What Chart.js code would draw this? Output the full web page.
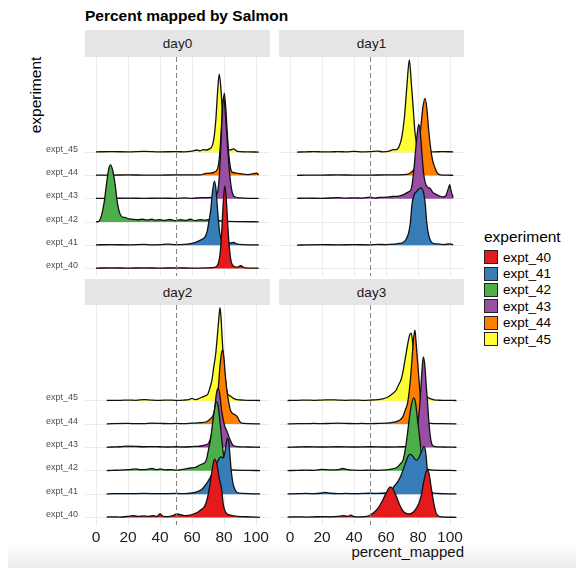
<!DOCTYPE html>
<html>
<head>
<meta charset="utf-8">
<title>Percent mapped by Salmon</title>
<script src="https://cdn.jsdelivr.net/npm/chart.js@4.4.1/dist/chart.umd.min.js"></script>
<style>
  body { margin: 0; background: #fff; font-family: 'Liberation Sans', Arial, Helvetica, sans-serif; }
  #page { position: relative; width: 576px; height: 568px; overflow: hidden; background: #fff; }
  #title { position: absolute; left: 85px; top: 7px; font-size: 15.5px; font-weight: bold; color: #000; white-space: nowrap; }
  #ytitle { position: absolute; left: 36px; top: 95px; transform: translate(-50%, -50%) rotate(-90deg); font-size: 15.5px; color: #000; white-space: nowrap; }
  #xtitle { position: absolute; right: 112px; top: 543px; font-size: 15px; color: #111; white-space: nowrap; }
  .strip { position: absolute; background: #e5e5e5; color: #1a1a1a; font-size: 13.5px; display: flex; align-items: center; justify-content: center; }
  canvas { position: absolute; }
  #legend { position: absolute; left: 484px; top: 228px; }
  #legend .head { font-size: 15.5px; color: #000; margin-bottom: 3px; }
  #legend .row { display: flex; align-items: center; height: 16.4px; }
  #legend .key { width: 14px; height: 14px; box-sizing: border-box; border: 1px solid #222; margin-right: 5px; }
  #legend .lab { font-size: 13.5px; color: #000; }
  #shade { position: absolute; left: 8px; right: 0; top: 544px; height: 24px; background: linear-gradient(to bottom, rgba(238,238,238,0), #ebebeb); }
</style>
</head>
<body>
<div id="page">
  <div id="shade"></div>
  <div id="title">Percent mapped by Salmon</div>
  <div id="ytitle">experiment</div>
  <div id="xtitle">percent_mapped</div>
  <div id="legend"></div>
</div>
<script>
// groups and fill colours (ColorBrewer Set1)
const EXPERIMENTS = ['expt_40', 'expt_41', 'expt_42', 'expt_43', 'expt_44', 'expt_45'];
const COLORS = ['#E41A1C', '#377EB8', '#4DAF4A', '#984EA3', '#FF7F00', '#FFFF33'];
const X_TICKS = [0, 20, 40, 60, 80, 100];
const CUTOFF = 50;

// density ridges: [percent_mapped, scaled density]
const day0_40 = [[0,0.02],[10,0.03],[20,0.02],[30,0.03],[40,0.02],[50,0.03],[60,0.02],[70,0.03],[74,0.05],[76,0.15],[77.5,0.6],[78.5,1.5],[79.5,2.8],[80.5,3.56],[81.5,2.9],[82.5,1.7],[83.5,0.8],[84.5,0.3],[86,0.1],[88,0.06],[90.5,0.12],[93,0.03],[101.7,0.02]];
const day0_41 = [[0,0.02],[10,0.03],[20,0.02],[30,0.04],[35,0.02],[40,0.03],[45,0.05],[50,0.03],[55,0.04],[60,0.08],[63,0.15],[66,0.25],[68,0.35],[69.5,0.6],[70.5,1.0],[71.7,1.5],[72.8,2.3],[74,2.76],[75,2.4],[76,1.5],[77,0.7],[78,0.3],[80,0.12],[84,0.1],[86,0.12],[88,0.06],[92,0.03],[101.7,0.02]];
const day0_42 = [[0,0.01],[2,0.05],[3.5,0.3],[5,0.8],[6.5,1.6],[8,2.3],[9.2,2.46],[10.5,2.2],[12,1.6],[13,1.0],[14,0.6],[15,0.35],[16.5,0.22],[18,0.2],[20,0.15],[23,0.12],[26,0.1],[29,0.12],[32,0.08],[35,0.12],[37,0.08],[40,0.1],[43,0.07],[46,0.11],[50,0.06],[53,0.1],[56,0.07],[59,0.12],[62,0.06],[65,0.1],[68,0.08],[71,0.12],[73,0.15],[75,0.1],[78,0.05],[82,0.03],[90,0.02],[101.7,0.01]];
const day0_43 = [[0,0.02],[10,0.02],[20,0.03],[30,0.02],[40,0.03],[50,0.02],[55,0.04],[60,0.02],[66,0.05],[70,0.05],[74,0.1],[76,0.3],[77,0.9],[78,2.2],[79,3.8],[79.7,4.42],[80.5,4.0],[81.5,3.0],[82.5,2.0],[83.5,1.1],[84.5,0.5],[85.5,0.2],[87,0.08],[90,0.04],[95,0.02],[101.7,0.02]];
const day0_44 = [[0,0.02],[10,0.02],[20,0.03],[30,0.02],[40,0.02],[50,0.03],[65,0.03],[68,0.08],[71,0.1],[74,0.15],[76,0.3],[77,0.7],[78,1.6],[79,2.8],[80.2,3.54],[81,3.0],[82,1.9],[83,0.9],[84,0.35],[85,0.15],[87,0.12],[90,0.08],[95,0.04],[100.5,0.1],[101.7,0.03]];
const day0_45 = [[0,0.02],[10,0.03],[20,0.02],[30,0.04],[40,0.02],[50,0.03],[55,0.02],[60,0.05],[63,0.1],[65,0.06],[67,0.12],[69,0.1],[71,0.15],[72,0.2],[73,0.35],[74,0.75],[75,1.5],[76,2.6],[77,3.36],[78,2.8],[79,1.7],[80,0.75],[81,0.3],[82,0.15],[84,0.1],[86,0.15],[88,0.05],[90,0.03],[95,0.02],[101.7,0.01]];

const day1_41 = [[4.4,0.01],[10,0.02],[20,0.03],[30,0.02],[40,0.03],[50,0.02],[55,0.04],[60,0.03],[65,0.05],[68,0.08],[70.5,0.12],[72.5,0.25],[74,0.5],[75.2,0.95],[76.3,1.8],[77.7,2.2],[79,2.3],[80.2,2.4],[81.9,2.47],[83.5,2.25],[84.5,1.8],[85.3,1.1],[86.2,0.6],[87.5,0.25],[89,0.1],[92,0.06],[96,0.03],[100,0.06],[102,0.02]];
const day1_43 = [[4.4,0.02],[10,0.03],[20,0.02],[30,0.05],[35,0.03],[40,0.04],[45,0.03],[50,0.07],[53,0.03],[56,0.06],[60,0.07],[64,0.1],[68,0.12],[71,0.18],[74,0.3],[75.5,0.38],[76.5,0.7],[77.5,1.3],[78.5,2.1],[79.5,2.8],[80.5,3.2],[81.5,2.8],[82.5,1.9],[83.5,1.1],[84.5,0.7],[86,0.5],[87.5,0.45],[89,0.3],[91,0.2],[93.5,0.12],[95.5,0.08],[97.5,0.15],[99,0.45],[99.8,0.61],[100.8,0.3],[102,0.05]];
const day1_44 = [[4.4,0.01],[10,0.02],[20,0.02],[30,0.03],[40,0.02],[50,0.02],[60,0.03],[68,0.03],[73,0.05],[76,0.15],[78,0.35],[80,1.0],[81.5,1.9],[83,2.9],[84.4,3.32],[85.5,2.9],[86.5,2.1],[87.5,1.4],[89,0.7],[90.5,0.35],[92,0.12],[94,0.03],[98,0.02],[102,0.01]];
const day1_45 = [[4.4,0.01],[10,0.02],[15,0.03],[20,0.02],[25,0.02],[30,0.03],[35,0.02],[40,0.04],[45,0.02],[50,0.03],[55,0.05],[58,0.02],[62,0.05],[64.5,0.12],[66.5,0.12],[68.5,0.3],[70,0.7],[71.5,1.5],[73,2.8],[74.6,3.97],[75.8,3.0],[77,1.9],[78.2,0.8],[79.5,0.25],[81,0.08],[84,0.03],[90,0.02],[95,0.03],[102,0.02]];

const day2_40 = [[6.7,0.02],[10,0.03],[15,0.02],[20,0.05],[23,0.08],[26,0.05],[30,0.07],[33,0.05],[36,0.08],[38,0.05],[40,0.15],[42,0.05],[45,0.04],[48,0.08],[50.5,0.15],[53,0.12],[56,0.08],[59,0.1],[62,0.18],[64,0.25],[66,0.35],[68,0.5],[69.5,0.8],[71,1.3],[72.5,2.0],[74,2.5],[75.5,2.3],[77,1.7],[78.5,1.2],[79.5,0.6],[80.5,0.3],[82,0.15],[84,0.1],[87,0.06],[91,0.04],[96,0.03],[102.5,0.01]];
const day2_41 = [[6.7,0.01],[10,0.02],[20,0.02],[30,0.03],[40,0.02],[50,0.03],[55,0.02],[60,0.05],[63,0.1],[66,0.2],[68,0.35],[70,0.55],[72,0.8],[74,1.1],[76,1.4],[78,1.6],[79.6,1.55],[80.8,1.9],[82.1,2.39],[83,2.2],[83.8,1.6],[84.6,0.96],[85.5,0.5],[86.5,0.25],[88,0.08],[92,0.03],[102.5,0.01]];
const day2_42 = [[6.7,0.01],[10,0.02],[15,0.03],[20,0.05],[25,0.08],[28,0.05],[32,0.06],[35,0.1],[38,0.05],[40,0.08],[43,0.04],[47,0.05],[50,0.03],[53,0.05],[56,0.08],[59,0.12],[62,0.15],[65,0.25],[66.6,0.3],[68,0.35],[69.1,0.5],[70.3,0.9],[71.7,1.4],[73,2.1],[74.3,2.7],[75.4,2.96],[76.5,2.7],[77.5,2.1],[78.5,1.4],[79.5,0.8],[80.5,0.4],[82,0.15],[84,0.06],[88,0.03],[95,0.02],[102.5,0.01]];
const day2_43 = [[6.7,0.01],[10,0.02],[15,0.03],[20,0.06],[25,0.05],[30,0.03],[35,0.04],[40,0.03],[45,0.02],[50,0.03],[55,0.02],[60,0.04],[64,0.05],[68,0.1],[70.5,0.2],[72,0.5],[73,0.95],[74.2,1.7],[75.5,2.4],[76.5,2.53],[77.5,2.2],[78.5,1.6],[79.5,1.2],[80.5,0.9],[81.5,0.75],[82.7,0.53],[84,0.3],[85.5,0.1],[88,0.04],[95,0.02],[102.5,0.01]];
const day2_44 = [[6.7,0.01],[10,0.02],[20,0.03],[25,0.02],[30,0.02],[35,0.04],[40,0.03],[45,0.02],[50,0.03],[55,0.02],[60,0.04],[65,0.06],[69,0.1],[71,0.2],[73,0.35],[75,0.8],[76.5,1.6],[77.5,2.5],[78.5,3.05],[79.2,3.18],[80,2.8],[80.8,2.1],[81.7,1.5],[82.8,1.0],[84,0.6],[85.5,0.45],[87,0.4],[88.5,0.3],[89.5,0.15],[91,0.04],[95,0.02],[102.5,0.01]];
const day2_45 = [[6.7,0.01],[10,0.02],[15,0.02],[20,0.03],[25,0.02],[30,0.05],[35,0.03],[40,0.02],[45,0.03],[50,0.02],[55,0.03],[58,0.05],[60,0.1],[62,0.05],[64,0.08],[66,0.15],[68,0.2],[70,0.3],[71,0.5],[72.5,0.9],[73.5,1.4],[74.8,2.0],[76,2.9],[77,3.7],[77.5,3.99],[78.2,3.5],[79,2.5],[80,1.5],[81,0.8],[82,0.35],[84,0.2],[86,0.1],[88,0.05],[92,0.03],[102.5,0.01]];

const day3_40 = [[-1.5,0.02],[5,0.03],[10,0.02],[15,0.03],[20,0.04],[25,0.03],[30,0.05],[33,0.08],[36,0.05],[38,0.1],[40,0.04],[44,0.03],[48,0.05],[50.5,0.12],[53,0.25],[55.5,0.45],[58,0.75],[60.5,1.1],[62.7,1.31],[64.5,1.2],[66.5,0.9],[68.5,0.55],[70.5,0.3],[72.5,0.18],[74.6,0.15],[76.5,0.2],[78.5,0.35],[80.5,0.6],[82,0.95],[83.5,1.5],[85,1.95],[86,2.03],[87,1.85],[88,1.4],[89,0.95],[90.2,0.5],[91.3,0.2],[92.5,0.08],[95,0.03],[104,0.01]];
const day3_41 = [[-1.5,0.01],[5,0.02],[10,0.03],[15,0.02],[20,0.05],[22,0.08],[25,0.04],[30,0.02],[35,0.03],[40,0.02],[45,0.03],[50,0.04],[55,0.03],[60,0.05],[63,0.15],[65.2,0.35],[67.5,0.55],[69.4,0.81],[71,1.1],[72.8,1.45],[74,1.65],[75.2,1.7],[76.5,1.65],[78,1.5],[79.2,1.46],[80.5,1.55],[82,1.8],[83.7,2.05],[84.8,1.8],[85.6,1.2],[86.4,0.6],[87.3,0.25],[88.5,0.08],[92,0.03],[104,0.01]];
const day3_42 = [[-1.5,0.01],[5,0.02],[10,0.03],[15,0.02],[20,0.06],[25,0.04],[30,0.05],[33,0.1],[36,0.05],[40,0.03],[45,0.02],[50,0.03],[55,0.02],[60,0.04],[64,0.08],[67,0.15],[69,0.3],[70.7,0.47],[72,0.9],[73.2,1.47],[74.5,2.2],[75.8,2.8],[77.3,3.12],[78.5,2.9],[79.5,2.3],[80.9,1.5],[82,0.8],[83.2,0.3],[85,0.08],[90,0.03],[104,0.01]];
const day3_43 = [[-1.5,0.01],[5,0.02],[10,0.03],[20,0.02],[30,0.03],[40,0.02],[50,0.03],[60,0.02],[70,0.03],[75,0.05],[77.5,0.2],[79,0.6],[80.2,1.2],[81.2,1.9],[82.2,3.0],[83.3,3.88],[84.3,3.5],[85.2,2.6],[86,1.9],[86.9,1.0],[87.7,0.47],[88.6,0.15],[90,0.05],[95,0.02],[104,0.01]];
const day3_44 = [[-1.5,0.01],[5,0.02],[10,0.02],[15,0.03],[20,0.02],[25,0.03],[30,0.04],[35,0.03],[40,0.02],[45,0.03],[50,0.02],[55,0.03],[60,0.04],[65,0.08],[68,0.15],[70.4,0.3],[72,0.6],[73.5,0.9],[74.5,1.4],[75.5,2.1],[76.5,3.0],[77.3,3.7],[78.1,4.02],[78.8,3.5],[79.6,2.8],[80.4,2.1],[81.3,1.3],[82.2,0.6],[83.2,0.25],[84.5,0.08],[88,0.03],[95,0.02],[104,0.01]];
const day3_45 = [[-1.5,0.01],[5,0.02],[10,0.03],[15,0.02],[20,0.03],[25,0.04],[30,0.03],[35,0.02],[40,0.03],[45,0.02],[50,0.03],[55,0.05],[58,0.08],[61,0.15],[64,0.3],[66.3,0.45],[68,0.7],[69.4,0.9],[70.5,1.2],[71.5,1.6],[72.5,2.0],[73.5,2.4],[74.7,2.8],[75.6,2.89],[76.5,2.6],[77.5,1.8],[78.5,1.0],[80,0.5],[82,0.3],[84,0.22],[86,0.15],[88,0.08],[90,0.04],[95,0.02],[104,0.01]];

// one entry per facet, curves listed in EXPERIMENTS order (null = no samples)
const DAYS = ['day0', 'day1', 'day2', 'day3'];
const CURVES = [
  [day0_40, day0_41, day0_42, day0_43, day0_44, day0_45],
  [null, day1_41, null, day1_43, day1_44, day1_45],
  [day2_40, day2_41, day2_42, day2_43, day2_44, day2_45],
  [day3_40, day3_41, day3_42, day3_43, day3_44, day3_45]
];

// facet layout
const FONT = "'Liberation Sans', Arial, Helvetica, sans-serif";
const COL_LEFT = [85, 279];
const PANEL_W = 185;
const ROWS = [{ strip: 30, top: 57, h: 219 }, { strip: 279, top: 305, h: 220 }];
const Y_AXIS_W = 45;
const X_AXIS_H = 26;

const page = document.getElementById('page');

const cutoffLine = {
  id: 'cutoffLine',
  afterDatasetsDraw(chart) {
    const { ctx, chartArea: a, scales: { x } } = chart;
    const px = Math.round(x.getPixelForValue(CUTOFF)) + 0.5;
    ctx.save();
    ctx.strokeStyle = '#808080';
    ctx.lineWidth = 1;
    ctx.setLineDash([5, 3]);
    ctx.beginPath();
    ctx.moveTo(px, a.top);
    ctx.lineTo(px, a.bottom);
    ctx.stroke();
    ctx.restore();
  }
};

// keep the plot area exactly inside the canvas: no extra room for edge labels
function noEdgePadding(s) {
  s.paddingTop = 0;
  s.paddingBottom = 0;
  s.paddingLeft = 0;
  s.paddingRight = 0;
}

DAYS.forEach((day, i) => {
  const col = i % 2, row = Math.floor(i / 2);
  const r = ROWS[row];
  const left = COL_LEFT[col];
  const isLeft = col === 0, isBottom = row === 1;

  const strip = document.createElement('div');
  strip.className = 'strip';
  strip.style.left = left + 'px';
  strip.style.top = r.strip + 'px';
  strip.style.width = PANEL_W + 'px';
  strip.style.height = (r.top - r.strip) + 'px';
  strip.textContent = day;
  page.appendChild(strip);

  const canvas = document.createElement('canvas');
  const cw = PANEL_W + (isLeft ? Y_AXIS_W : 0);
  const ch = r.h + (isBottom ? X_AXIS_H : 0);
  canvas.width = cw;
  canvas.height = ch;
  canvas.style.left = (left - (isLeft ? Y_AXIS_W : 0)) + 'px';
  canvas.style.top = r.top + 'px';
  canvas.style.width = cw + 'px';
  canvas.style.height = ch + 'px';
  page.appendChild(canvas);

  const datasets = [];
  CURVES[i].forEach((pts, k) => {
    if (!pts) return;
    datasets.push({
      label: EXPERIMENTS[k],
      data: pts.map(([x, h]) => ({ x: x, y: k + h })),
      borderColor: '#111',
      borderWidth: 1.3,
      backgroundColor: COLORS[k],
      fill: { value: k },
      pointRadius: 0,
      cubicInterpolationMode: 'monotone'
    });
  });

  new Chart(canvas.getContext('2d'), {
    type: 'line',
    data: { datasets: datasets },
    options: {
      responsive: false,
      animation: false,
      events: [],
      layout: { padding: 0 },
      plugins: { legend: { display: false }, tooltip: { enabled: false } },
      scales: {
        x: {
          type: 'linear',
          min: -6.875,
          max: 108.75,
          afterBuildTicks: s => { s.ticks = X_TICKS.map(v => ({ value: v })); },
          afterFit: s => { s.height = isBottom ? X_AXIS_H : 0; noEdgePadding(s); },
          grid: { color: '#ebebeb', lineWidth: 1, drawTicks: false },
          border: { display: false },
          ticks: {
            display: isBottom,
            autoSkip: false,
            maxRotation: 0,
            padding: 3,
            color: '#222',
            font: { family: FONT, size: 15.5 }
          }
        },
        y: {
          type: 'linear',
          min: -0.32,
          max: 9.1,
          afterBuildTicks: s => { s.ticks = EXPERIMENTS.map((_, k) => ({ value: k })); },
          afterFit: s => { s.width = isLeft ? Y_AXIS_W : 0; noEdgePadding(s); },
          grid: { color: '#ebebeb', lineWidth: 1, drawTicks: false },
          border: { display: false },
          ticks: {
            display: isLeft,
            autoSkip: false,
            padding: 7,
            labelOffset: -3,
            color: '#4d4d4d',
            font: { family: FONT, size: 9 },
            callback: v => EXPERIMENTS[v]
          }
        }
      }
    },
    plugins: [cutoffLine]
  });
});

// legend
const legend = document.getElementById('legend');
const head = document.createElement('div');
head.className = 'head';
head.textContent = 'experiment';
legend.appendChild(head);
EXPERIMENTS.forEach((name, k) => {
  const row = document.createElement('div');
  row.className = 'row';
  const key = document.createElement('div');
  key.className = 'key';
  key.style.background = COLORS[k];
  const lab = document.createElement('span');
  lab.className = 'lab';
  lab.textContent = name;
  row.appendChild(key);
  row.appendChild(lab);
  legend.appendChild(row);
});
</script>
</body>
</html>
